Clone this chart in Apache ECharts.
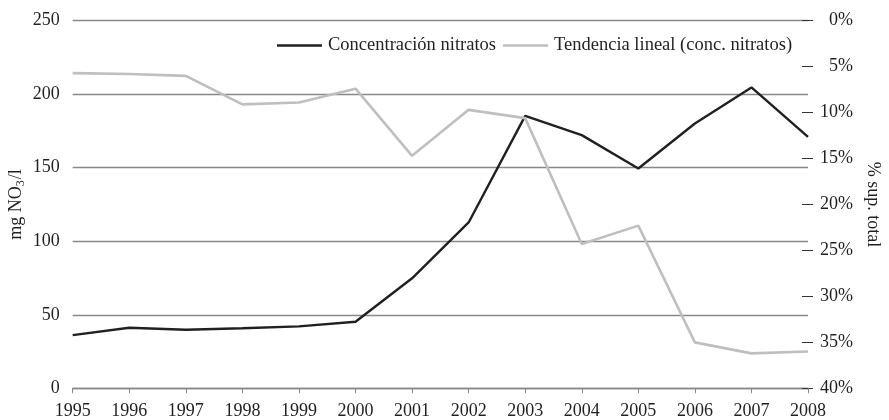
<!DOCTYPE html>
<html>
<head>
<meta charset="utf-8">
<script src="https://cdn.jsdelivr.net/npm/echarts@6/dist/echarts.min.js"></script>
<style>
	html, body { margin: 0; padding: 0; background: #fff; }
	#chart { width: 889px; height: 420px; }
</style>
</head>
<body>
<div id="chart"></div>
<script>
// datos
var years = ['1995', '1996', '1997', '1998', '1999', '2000', '2001', '2002', '2003', '2004', '2005', '2006', '2007', '2008'];
var nitratos = [36.2, 41.2, 39.8, 40.8, 42.1, 45.3, 74.8, 112.8, 185.3, 172.2, 149.5, 180.1, 204.6, 171];
var tendencia = [5.7, 5.8, 6.0, 9.1, 8.9, 7.4, 14.7, 9.7, 10.6, 24.3, 22.3, 35.0, 36.2, 36.0];

(function () {
	var myChart = echarts.init(document.getElementById('chart'));
	var font = 'Liberation Serif';
	var txt = '#231f20';
	var fs = 18;
	var option = {
		textStyle: { fontFamily: font, color: txt },
		legend: {
			left: 272,
			top: 31,
			icon: 'rect',
			itemWidth: 45,
			itemHeight: 2.5,
			itemGap: 7,
			textStyle: { fontFamily: font, fontSize: 18.5, color: txt, padding: [0, 0, 0, 1] },
			data: ['Concentración nitratos', 'Tendencia lineal (conc. nitratos)']
		},
		grid: {
			left: 72.7,
			right: 81,
			top: 20.7,
			bottom: 31.7,
			outerBoundsMode: 'none'
		},
		xAxis: {
			type: 'category',
			boundaryGap: false,
			data: years,
			axisLine: { lineStyle: { color: '#888', width: 1.3 } },
			axisTick: { show: true, length: 5, lineStyle: { color: '#888' } },
			axisLabel: { fontFamily: font, fontSize: fs, color: txt, margin: 14 }
		},
		yAxis: [
			{
				type: 'value',
				min: 0,
				max: 250,
				interval: 50,
				name: 'mg NO{sub|3}/l',
				nameLocation: 'middle',
				nameGap: 46,
				nameMoveOverlap: false,
				nameRotate: 90,
				nameTextStyle: {
					fontFamily: font, fontSize: fs, color: txt,
					rich: {
						sub: { fontFamily: font, fontSize: 12, color: txt, padding: [8, 1, 0, 0] }
					}
				},
				axisLine: { show: false },
				axisTick: { show: false },
				axisLabel: { fontFamily: font, fontSize: fs, color: txt, margin: 13 },
				splitLine: { lineStyle: { color: '#888', width: 1.3 } }
			},
			{
				type: 'value',
				min: 0,
				max: 40,
				interval: 5,
				inverse: true,
				position: 'right',
				offset: -6,
				name: '% sup. total',
				nameLocation: 'middle',
				nameGap: 60,
				nameRotate: -90,
				nameTextStyle: { fontFamily: font, fontSize: fs, color: txt },
				axisLine: { show: false },
				axisTick: { show: true, length: 11, lineStyle: { color: '#333' } },
				axisLabel: {
					fontFamily: font, fontSize: fs, color: txt,
					align: 'right', margin: 51,
					formatter: '{value}%'
				},
				splitLine: { show: false }
			}
		],
		series: [
			{
				name: 'Concentración nitratos',
				type: 'line',
				yAxisIndex: 0,
				data: nitratos,
				symbol: 'none',
				lineStyle: { color: '#231f20', width: 2.4 },
				itemStyle: { color: '#231f20' }
			},
			{
				name: 'Tendencia lineal (conc. nitratos)',
				type: 'line',
				yAxisIndex: 1,
				data: tendencia,
				symbol: 'none',
				lineStyle: { color: '#bfbfc2', width: 2.6 },
				itemStyle: { color: '#bfbfc2' }
			}
		]
	};
	myChart.setOption(option);
	window.addEventListener('resize', function () {
		myChart.resize();
	});
})();
</script>
</body>
</html>
